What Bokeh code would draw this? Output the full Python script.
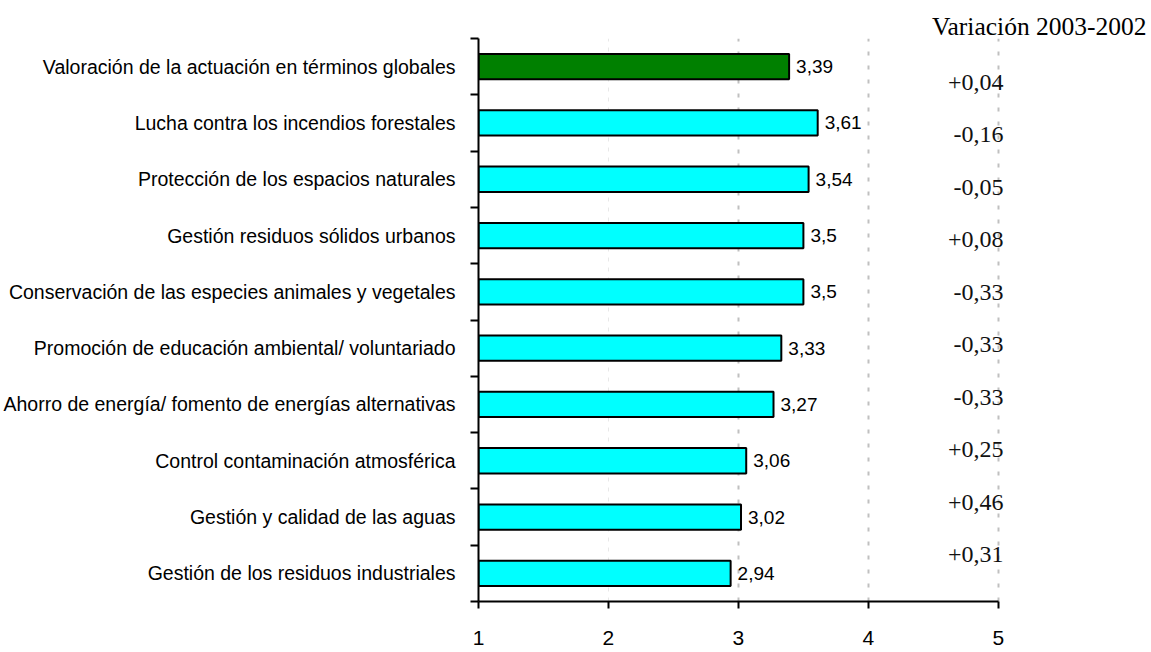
from bokeh.plotting import figure
from bokeh.models import Range1d, FixedTicker, Grid, ColumnDataSource
from bokeh.core.properties import value
from bokeh.embed import file_html
from bokeh.resources import INLINE

# ---- data ----
categories = [
    "Valoración de la actuación en términos globales",
    "Lucha contra los incendios forestales",
    "Protección de los espacios naturales",
    "Gestión residuos sólidos urbanos",
    "Conservación de las especies animales y vegetales",
    "Promoción de educación ambiental/ voluntariado",
    "Ahorro de energía/ fomento de energías alternativas",
    "Control contaminación atmosférica",
    "Gestión y calidad de las aguas",
    "Gestión de los residuos industriales",
]
scores = [3.39, 3.61, 3.54, 3.5, 3.5, 3.33, 3.27, 3.06, 3.02, 2.94]
variation = [0.04, -0.16, -0.05, 0.08, -0.33, -0.33, -0.33, 0.25, 0.46, 0.31]
x_ticks = [1, 2, 3, 4, 5]
variation_title = "Variación 2003-2002"

# ---- layout / style ----
n = len(categories)
ypos = [n - i for i in range(n)]
bounds = [i + 0.5 for i in range(n + 1)]
colors = ["#008000" if i == 0 else "#00FFFF" for i in range(n)]
score_labels = [("%g" % v).replace(".", ",") for v in scores]
var_labels = [("%+.2f" % v).replace(".", ",") for v in variation]
VAR_X = 5.04
VAR_TOP = 9.72
VAR_STEP = 0.9325
var_y = [VAR_TOP - i * VAR_STEP for i in range(n)]
var_x = [VAR_X] * n

SANS = "Liberation Sans"
SERIF = "Liberation Serif"

p = figure(
    frame_width=668, frame_height=563,
    x_range=Range1d(1, 6.14), y_range=Range1d(0.5, 10.5),
    output_backend="svg", toolbar_location=None,
    min_border_left=470, min_border_right=2, min_border_top=38, min_border_bottom=4,
)
p.outline_line_color = None
p.background_fill_color = "white"

p.title.text = variation_title
p.title.align = "right"
p.title.text_font = SERIF
p.title.text_font_size = "25.5px"
p.title.text_font_style = "normal"
p.title.text_color = "black"
p.title.standoff = -5

# grids
p.ygrid.visible = False
p.xgrid.ticker = FixedTicker(ticks=[3, 4, 5])
p.xgrid.grid_line_color = "#c0c0c0"
p.xgrid.grid_line_width = 2
p.xgrid.grid_line_dash = "4 10"
g2 = Grid(dimension=0, ticker=FixedTicker(ticks=[2]), grid_line_color="#e8e8e8",
          grid_line_width=1, grid_line_dash="4 6")
p.add_layout(g2)

# bars
src = ColumnDataSource(dict(y=ypos, right=scores, color=colors, lab=score_labels))
p.hbar(y="y", left=1, right="right", height=0.45, fill_color="color",
       line_color="black", line_width=2, source=src)
p.text(x="right", y="y", text="lab", source=src, x_offset=7,
       text_baseline="middle", text_align="left",
       text_font=value(SANS), text_font_size="19px", text_color="black")

# variation column
vsrc = ColumnDataSource(dict(x=var_x, y=var_y, t=var_labels))
p.text(x="x", y="y", text="t", source=vsrc, text_align="right",
       text_baseline="middle", text_font=value(SERIF), text_font_size="24px",
       text_color="#111111")

# x axis
xa = p.xaxis[0]
xa.ticker = FixedTicker(ticks=x_ticks, minor_ticks=[])
xa.bounds = (1, 5)
xa.axis_line_width = 2
xa.axis_line_color = "black"
xa.major_tick_out = 7
xa.major_tick_in = 0
xa.major_tick_line_width = 2
xa.major_tick_line_color = "black"
xa.minor_tick_line_color = None
xa.major_label_text_font = SANS
xa.major_label_text_font_size = "21px"
xa.major_label_text_color = "black"
xa.major_label_standoff = 22

# y axis
ya = p.yaxis[0]
ya.ticker = FixedTicker(ticks=ypos, minor_ticks=bounds)
ya.major_label_overrides = {y: c for y, c in zip(ypos, categories)}
ya.axis_line_width = 2
ya.axis_line_color = "black"
ya.major_tick_line_color = None
ya.major_tick_out = 0
ya.major_tick_in = 0
ya.minor_tick_out = 8
ya.minor_tick_in = 0
ya.minor_tick_line_width = 2
ya.minor_tick_line_color = "black"
ya.major_label_text_font = SANS
ya.major_label_text_font_size = "19.5px"
ya.major_label_text_color = "black"
ya.major_label_standoff = 15

open("out.html", "w").write(file_html(p, INLINE))
